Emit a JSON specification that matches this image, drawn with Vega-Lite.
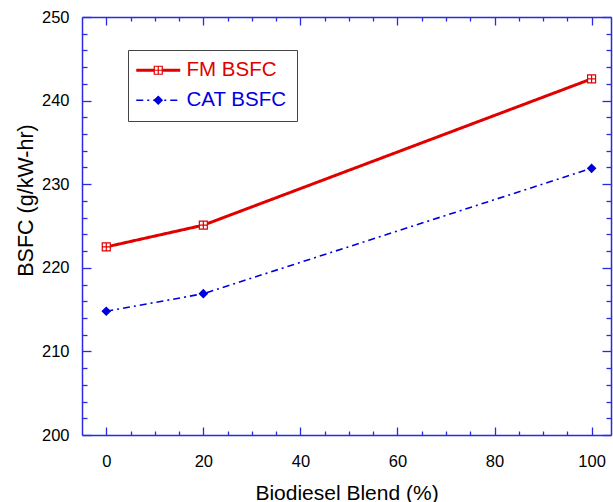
{
  "$schema": "https://vega.github.io/schema/vega-lite/v6.json",
  "width": 529,
  "height": 418,
  "autosize": {"type": "none"},
  "padding": {"left": 82, "top": 17, "right": 2, "bottom": 67},
  "background": "white",
  "config": {"view": {"stroke": null}, "font": "Liberation Sans"},
  "data": {
    "values": [
      {"blend": 0, "bsfc": 222.5, "series": "FM BSFC"},
      {"blend": 20, "bsfc": 225.1, "series": "FM BSFC"},
      {"blend": 100, "bsfc": 242.6, "series": "FM BSFC"},
      {"blend": 0, "bsfc": 214.8, "series": "CAT BSFC"},
      {"blend": 20, "bsfc": 216.9, "series": "CAT BSFC"},
      {"blend": 100, "bsfc": 231.9, "series": "CAT BSFC"}
    ]
  },
  "layer": [
    {
      "transform": [{"filter": "datum.series === 'FM BSFC'"}],
      "mark": {"type": "line", "strokeWidth": 3},
      "encoding": {
        "x": {
          "field": "blend", "type": "quantitative",
          "scale": {"domain": [-5, 104], "nice": false, "zero": false},
          "axis": {
            "orient": "bottom",
            "values": [0,5,10,15,20,25,30,35,40,45,50,55,60,65,70,75,80,85,90,95,100],
            "labelExpr": "datum.value % 20 === 0 ? datum.label : ''",
            "labelOverlap": false, "labelFlush": false,
            "labelFont": "Liberation Sans", "labelFontSize": 16.5, "labelColor": "black",
            "labelPadding": 26,
            "tickSize": {"condition": {"test": "datum.value % 20 === 0", "value": -8}, "value": -4},
            "tickColor": "#2a2ae0", "tickWidth": 1.3,
            "domainColor": "#2a2ae0", "domainWidth": 1.5, "grid": false,
            "title": "Biodiesel Blend (%)",
            "titleFont": "Liberation Sans", "titleFontSize": 21, "titleFontWeight": "normal", "titleColor": "black",
            "titleY": 64, "titleBaseline": "alphabetic"
          }
        },
        "y": {
          "field": "bsfc", "type": "quantitative",
          "scale": {"domain": [200, 250], "nice": false, "zero": false},
          "axis": {
            "orient": "left",
            "values": [200,202,204,206,208,210,212,214,216,218,220,222,224,226,228,230,232,234,236,238,240,242,244,246,248,250],
            "labelExpr": "datum.value % 10 === 0 ? datum.label : ''",
            "labelOverlap": false, "labelFlush": false,
            "labelFont": "Liberation Sans", "labelFontSize": 16.5, "labelColor": "black",
            "labelPadding": 22,
            "tickSize": {"condition": {"test": "datum.value % 10 === 0", "value": -9}, "value": -5},
            "tickColor": "#2a2ae0", "tickWidth": 1.3,
            "domainColor": "#2a2ae0", "domainWidth": 1.5, "grid": false,
            "title": "BSFC (g/kW-hr)",
            "titleFont": "Liberation Sans", "titleFontSize": 21.5, "titleFontWeight": "normal", "titleColor": "black",
            "titleX": -50, "titleY": 183, "titleAngle": 270, "titleAlign": "center", "titleBaseline": "alphabetic"
          }
        },
        "color": {
          "field": "series", "type": "nominal",
          "scale": {"domain": ["FM BSFC", "CAT BSFC"], "range": ["#e00000", "#0000dd"]},
          "legend": {
            "orient": "none", "legendX": 46, "legendY": 33, "title": null,
            "symbolType": "stroke", "symbolSize": 1936, "symbolOffset": 10,
            "symbolStrokeWidth": {"expr": "datum.label === 'FM BSFC' ? 3 : 1.6"},
            "labelColor": {"expr": "datum.label === 'FM BSFC' ? '#e00000' : '#0000dd'"},
            "labelFont": "Liberation Sans", "labelFontSize": 20.5, "labelOffset": 18,
            "padding": 10, "rowPadding": 9,
            "strokeColor": "#444444", "fillColor": "white"
          }
        },
        "strokeDash": {
          "field": "series", "type": "nominal",
          "scale": {"domain": ["FM BSFC", "CAT BSFC"], "range": [[1, 0], [7, 4, 2, 4]]},
          "legend": {
            "orient": "none", "legendX": 46, "legendY": 33, "title": null,
            "symbolType": "stroke", "symbolSize": 1936, "symbolOffset": 10,
            "symbolStrokeWidth": {"expr": "datum.label === 'FM BSFC' ? 3 : 1.6"},
            "labelColor": {"expr": "datum.label === 'FM BSFC' ? '#e00000' : '#0000dd'"},
            "labelFont": "Liberation Sans", "labelFontSize": 20.5, "labelOffset": 18,
            "padding": 10, "rowPadding": 9,
            "strokeColor": "#444444", "fillColor": "white"
          }
        }
      }
    },
    {
      "transform": [{"filter": "datum.series === 'CAT BSFC'"}],
      "mark": {"type": "line", "strokeWidth": 1.6},
      "encoding": {
        "x": {"field": "blend", "type": "quantitative", "axis": null},
        "y": {"field": "bsfc", "type": "quantitative", "axis": null},
        "color": {"field": "series", "type": "nominal"},
        "strokeDash": {"field": "series", "type": "nominal"}
      }
    },
    {
      "mark": {"type": "point", "filled": true, "opacity": 1, "strokeWidth": 1.2},
      "encoding": {
        "x": {
          "field": "blend", "type": "quantitative",
          "axis": {
            "orient": "top",
            "values": [0,5,10,15,20,25,30,35,40,45,50,55,60,65,70,75,80,85,90,95,100],
            "labels": false, "title": null,
            "tickSize": {"condition": {"test": "datum.value % 20 === 0", "value": -8}, "value": -4},
            "tickColor": "#2a2ae0", "tickWidth": 1.3,
            "domainColor": "#2a2ae0", "domainWidth": 1.5, "grid": false
          }
        },
        "y": {
          "field": "bsfc", "type": "quantitative",
          "axis": {
            "orient": "right",
            "values": [200,202,204,206,208,210,212,214,216,218,220,222,224,226,228,230,232,234,236,238,240,242,244,246,248,250],
            "labels": false, "title": null,
            "tickSize": {"condition": {"test": "datum.value % 10 === 0", "value": -9}, "value": -5},
            "tickColor": "#2a2ae0", "tickWidth": 1.3,
            "domainColor": "#2a2ae0", "domainWidth": 1.5, "grid": false
          }
        },
        "shape": {
          "field": "series", "type": "nominal",
          "scale": {"domain": ["CAT BSFC", "FM BSFC"], "range": ["diamond", "M-1,-1H1V1H-1Z M0,-1V1 M-1,0H1"]},
          "legend": {
            "orient": "none", "legendX": 56, "legendY": 33, "title": null,
            "values": ["FM BSFC", "CAT BSFC"],
            "symbolSize": 64, "symbolStrokeWidth": 1.2,
            "labelExpr": "''", "labelFont": "Liberation Sans", "labelFontSize": 20.5, "labelOffset": 6,
            "padding": 10, "rowPadding": 9
          }
        },
        "fill": {
          "field": "series", "type": "nominal",
          "scale": {"domain": ["CAT BSFC", "FM BSFC"], "range": ["#0000dd", "white"]},
          "legend": {
            "orient": "none", "legendX": 56, "legendY": 33, "title": null,
            "values": ["FM BSFC", "CAT BSFC"],
            "symbolSize": 64, "symbolStrokeWidth": 1.2,
            "labelExpr": "''", "labelFont": "Liberation Sans", "labelFontSize": 20.5, "labelOffset": 6,
            "padding": 10, "rowPadding": 9
          }
        },
        "stroke": {
          "field": "series", "type": "nominal",
          "scale": {"domain": ["CAT BSFC", "FM BSFC"], "range": ["#0000dd", "#e00000"]},
          "legend": {
            "orient": "none", "legendX": 56, "legendY": 33, "title": null,
            "values": ["FM BSFC", "CAT BSFC"],
            "symbolSize": 64, "symbolStrokeWidth": 1.2,
            "labelExpr": "''", "labelFont": "Liberation Sans", "labelFontSize": 20.5, "labelOffset": 6,
            "padding": 10, "rowPadding": 9
          }
        },
        "size": {"value": 64}
      }
    }
  ],
  "resolve": {"axis": {"x": "independent", "y": "independent"}}
}
